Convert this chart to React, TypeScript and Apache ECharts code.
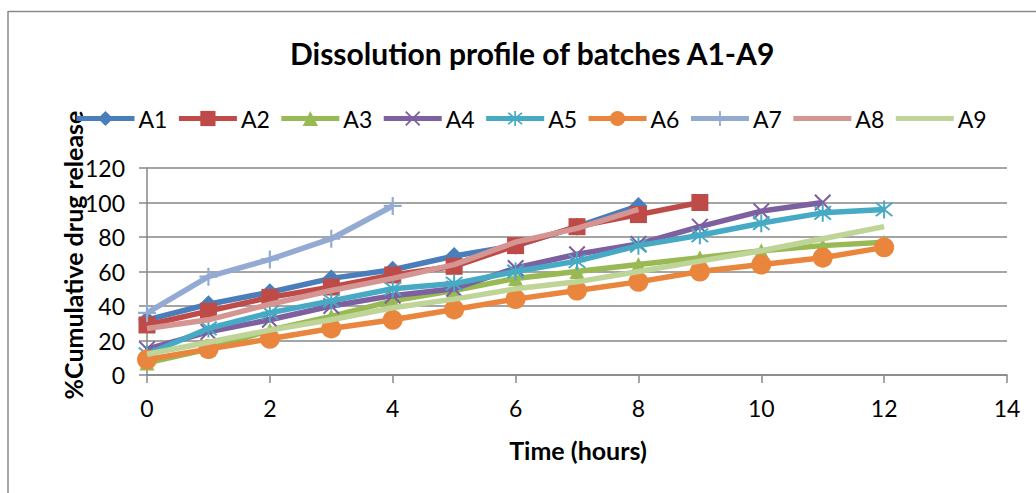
import React, { useEffect, useRef } from "react";
import * as echarts from "echarts";

const titleText = "Dissolution profile of batches A1-A9";
const xAxisTitle = "Time (hours)";
const yAxisTitle = "%Cumulative drug release";

const seriesNames = ["A1", "A2", "A3", "A4", "A5", "A6", "A7", "A8", "A9"];
const hours = [0, 1, 2, 3, 4, 5, 6, 7, 8, 9, 10, 11, 12];

const a1 = [32, 41, 48, 56, 61, 69, 75, 86, 98];
const a2 = [29, 37, 45, 51, 58, 63, 75, 86, 93, 100];
const a3 = [7, 15, 26, 34, 43, 49, 56, 60, 64, 68, 72, 75, 77];
const a4 = [15, 25, 32, 40, 46, 50, 62, 70, 76, 86, 95, 100];
const a5 = [12, 27, 36, 43, 50, 53, 60, 66, 75, 81, 88, 94, 96];
const a6 = [9, 15, 21, 27, 32, 38, 44, 49, 54, 60, 64, 68, 74];
const a7 = [36, 57, 67, 79, 98];
const a8 = [27, 32, 41, 49, 56, 64, 77, 85, 96];
const a9 = [12, 19, 26, 32, 39, 44, 50, 54, 60, 66, 72, 79, 86];

const allValues = [a1, a2, a3, a4, a5, a6, a7, a8, a9];

const colors = [
  "#4A7EBB",
  "#BE4B48",
  "#98B954",
  "#7D60A0",
  "#46AAC5",
  "#E9853C",
  "#93AAD2",
  "#D49593",
  "#BFD497",
];

const PLUS =
  "path://M-1.2,-10 L1.2,-10 L1.2,-1.2 L10,-1.2 L10,1.2 L1.2,1.2 L1.2,10 L-1.2,10 L-1.2,1.2 L-10,1.2 L-10,-1.2 L-1.2,-1.2 Z";
const CROSS =
  "path://M-8.2,-6.8 L-6.8,-8.2 L0,-1.4 L6.8,-8.2 L8.2,-6.8 L1.4,0 L8.2,6.8 L6.8,8.2 L0,1.4 L-6.8,8.2 L-8.2,6.8 L-1.4,0 Z";
const STAR =
  "path://M-8.2,-6.8 L-6.8,-8.2 L-0.9,-2.3 L-0.9,-10 L0.9,-10 L0.9,-2.3 L6.8,-8.2 L8.2,-6.8 L1.6,-0.3 L1.6,0.3 L8.2,6.8 L6.8,8.2 L0.9,2.3 L0.9,10 L-0.9,10 L-0.9,2.3 L-6.8,8.2 L-8.2,6.8 L-1.6,0.3 L-1.6,-0.3 Z";

const symbols = ["diamond", "rect", "triangle", CROSS, STAR, "circle", PLUS, "none", "none"];
const symbolSizes = [18, 17, 15, 17, 18, 20, 18, 0, 0];

const FONT = "Lato, 'Open Sans', sans-serif";

export default function App() {
  const ref = useRef<HTMLDivElement>(null);

  useEffect(() => {
    if (!ref.current) return;
    const chart = echarts.init(ref.current, null, { renderer: "svg" });

    const series = seriesNames.map((name, i) => ({
      name,
      type: "line",
      data: allValues[i].map((v, k) => [hours[k], v]),
      symbol: symbols[i],
      symbolSize: symbolSizes[i],
      showSymbol: symbols[i] !== "none",
      lineStyle: { width: 5.5, color: colors[i] },
      itemStyle: { color: colors[i] },
      z: 2 + i,
    }));

    const legendData = seriesNames.map((name, i) =>
      symbols[i] === "none"
        ? { name, itemStyle: { opacity: 0 } }
        : { name }
    );

    chart.setOption({
      animation: false,
      backgroundColor: "#ffffff",
      textStyle: { fontFamily: FONT },
      title: {
        text: titleText,
        left: 285,
        top: 33,
        textStyle: { fontFamily: FONT, fontWeight: "bold", fontSize: 30, color: "#000" },
      },
      legend: {
        data: legendData,
        left: 69,
        top: 102,
        width: 1000,
        itemWidth: 58,
        itemHeight: 19,
        itemGap: 9,
        lineStyle: { width: 5 },
        textStyle: { fontFamily: FONT, fontSize: 23, color: "#000", padding: [0, 0, 0, -1] },
      },
      grid: { left: 147, right: 29, top: 168, bottom: 118, containLabel: false },
      xAxis: {
        type: "value",
        min: 0,
        max: 14,
        interval: 2,
        axisLine: { show: true, lineStyle: { color: "#878787", width: 1.5 } },
        axisTick: { show: true, length: 8, lineStyle: { color: "#878787", width: 1.5 } },
        axisLabel: { fontFamily: FONT, fontSize: 23, color: "#000", margin: 21 },
        splitLine: { show: false },
      },
      yAxis: {
        type: "value",
        min: 0,
        max: 120,
        interval: 20,
        axisLine: { show: true, lineStyle: { color: "#878787", width: 1.5 } },
        axisTick: { show: true, length: 8, lineStyle: { color: "#878787", width: 1.5 } },
        axisLabel: { fontFamily: FONT, fontSize: 23, color: "#000", margin: 22 },
        splitLine: { show: true, lineStyle: { color: "#878787", width: 1.5 } },
      },
      graphic: [
        {
          type: "line",
          shape: { x1: 8, y1: 11.5, x2: 1036, y2: 11.5 },
          style: { stroke: "#8a8a8a", lineWidth: 1.5 },
        },
        {
          type: "line",
          shape: { x1: 8, y1: 11, x2: 8, y2: 493 },
          style: { stroke: "#8a8a8a", lineWidth: 1.5 },
        },
        {
          type: "text",
          x: 73,
          y: 255,
          rotation: Math.PI / 2,
          style: {
            text: yAxisTitle,
            fontFamily: FONT,
            fontWeight: "bold",
            fontSize: 25,
            fill: "#000",
            textAlign: "center",
            textVerticalAlign: "middle",
          },
        },
        {
          type: "text",
          x: 578,
          y: 450,
          style: {
            text: xAxisTitle,
            fontFamily: FONT,
            fontWeight: "bold",
            fontSize: 25,
            fill: "#000",
            textAlign: "center",
            textVerticalAlign: "middle",
          },
        },
      ],
      series,
    });

    return () => chart.dispose();
  }, []);

  return (
    <div
      ref={ref}
      style={{ position: "fixed", left: 0, top: 0, width: 1036, height: 493 }}
    />
  );
}
